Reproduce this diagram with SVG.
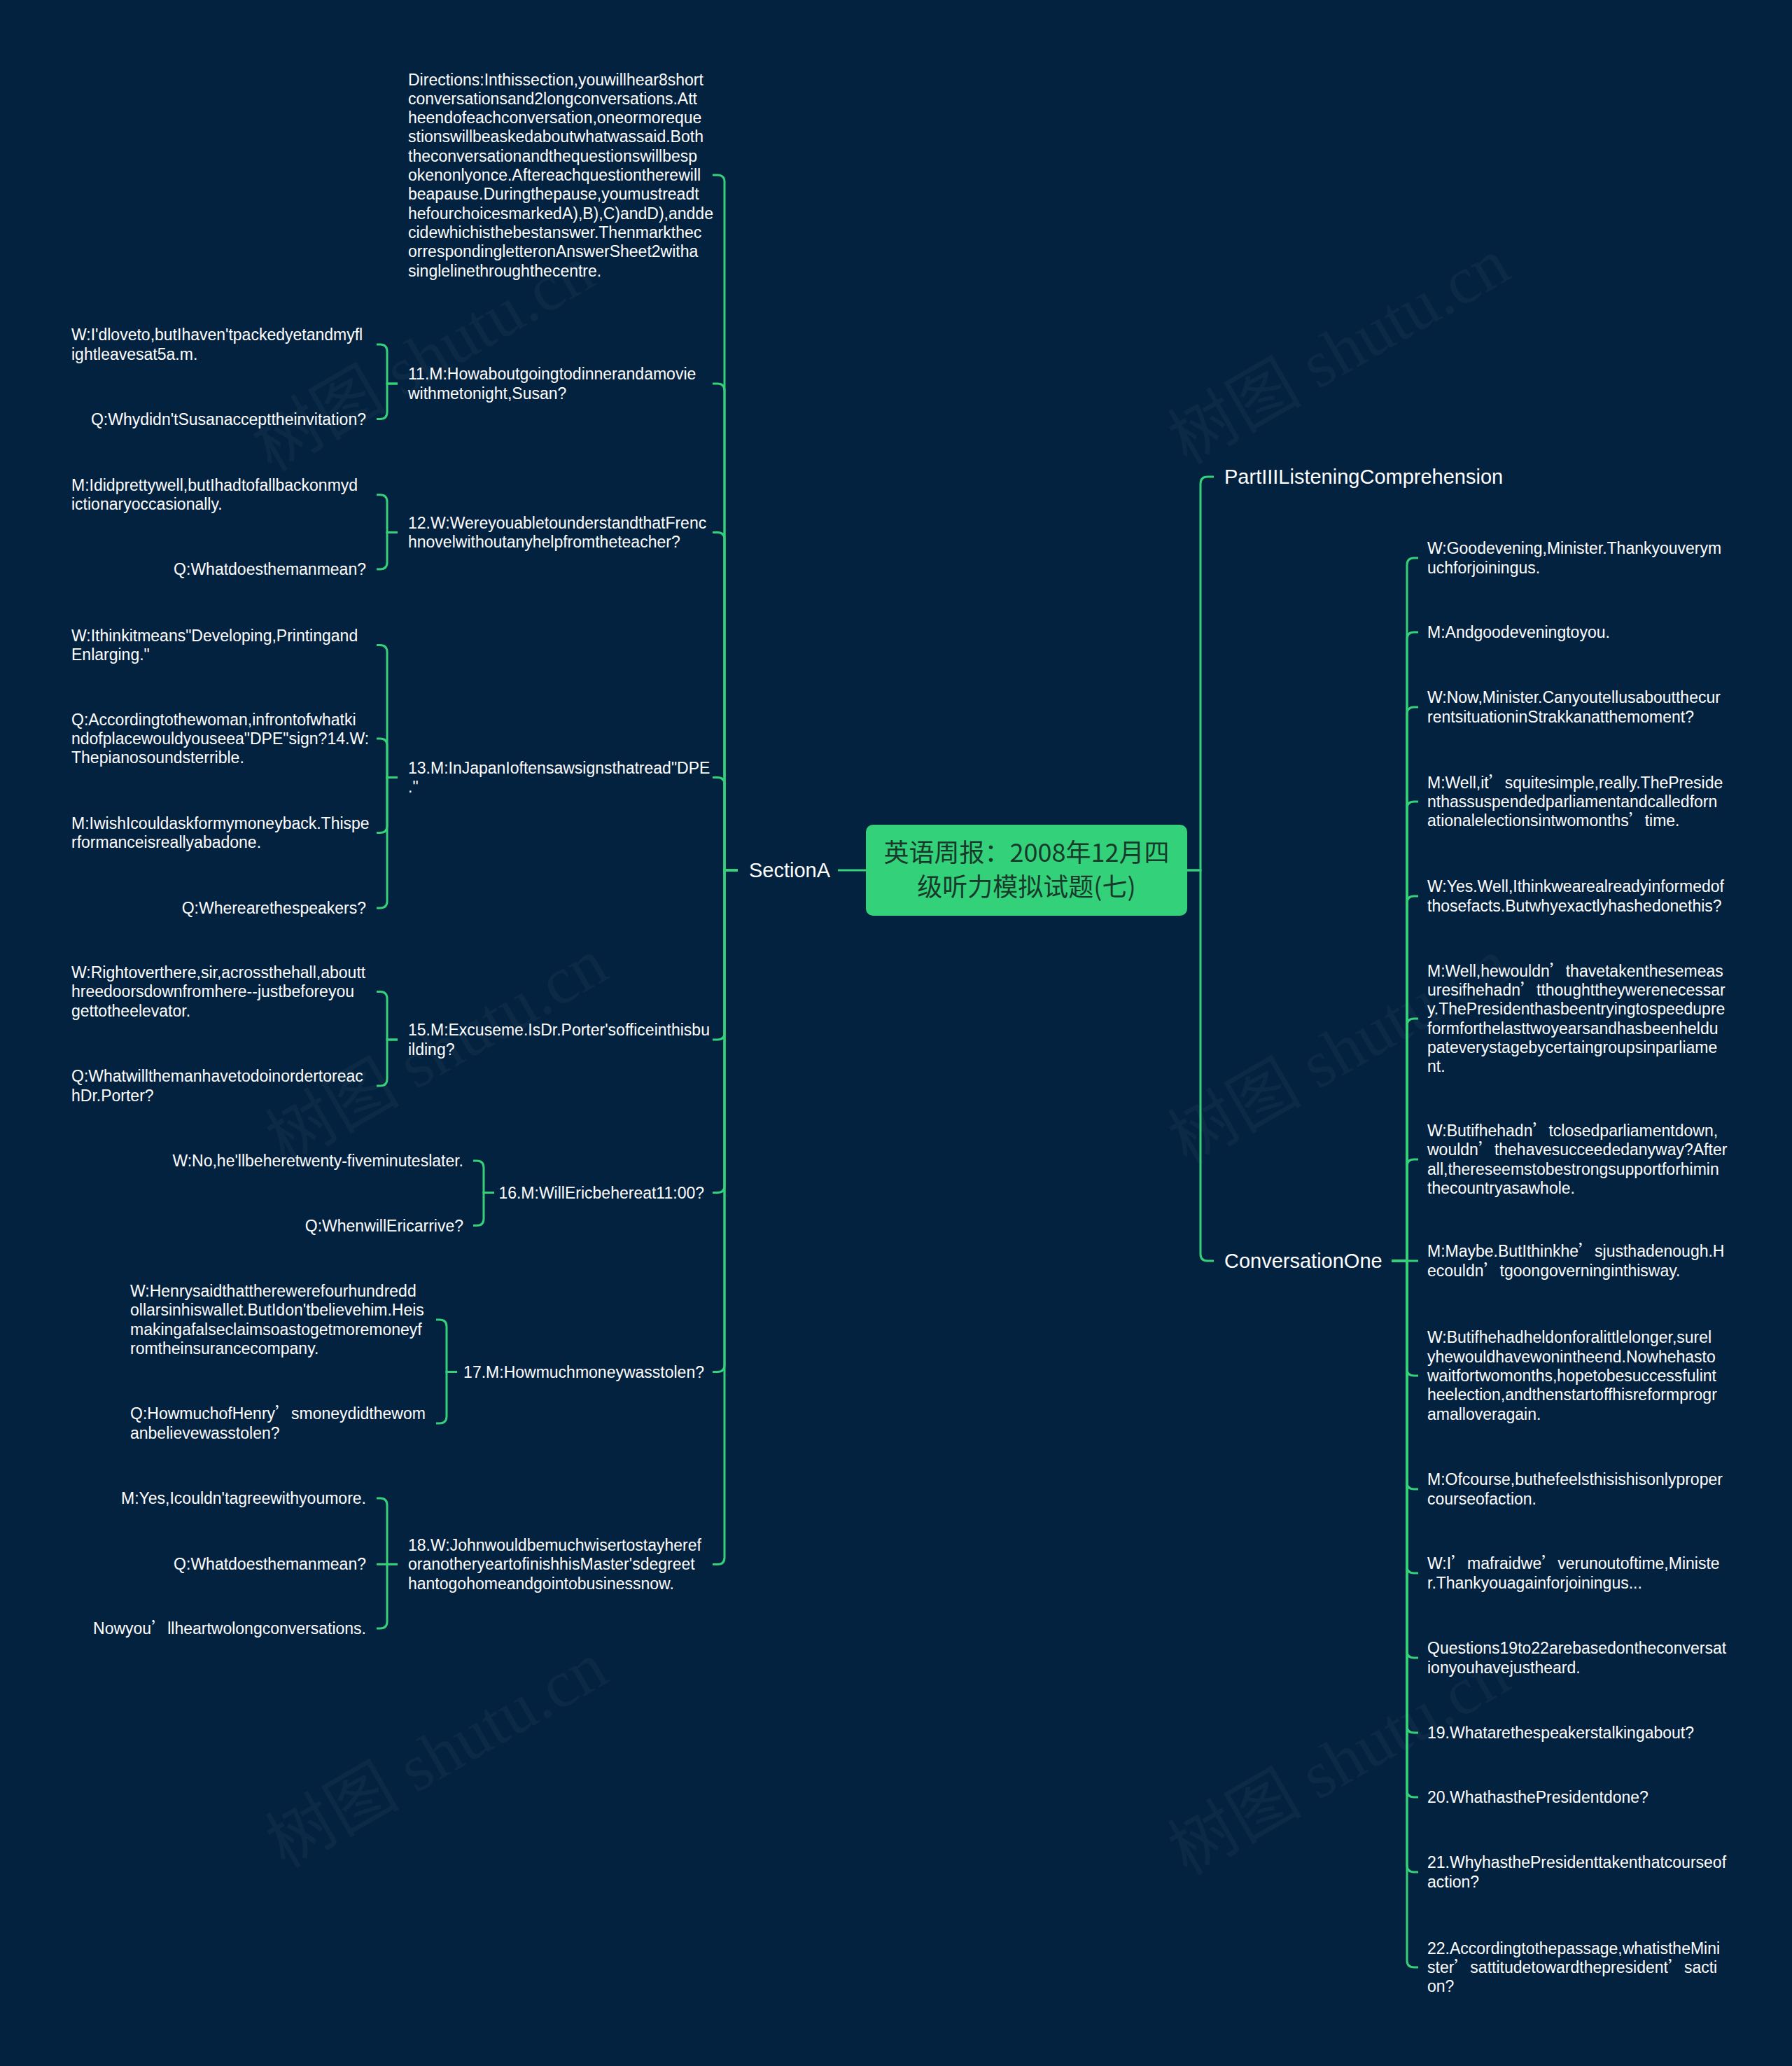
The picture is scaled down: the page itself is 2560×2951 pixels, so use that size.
<svg xmlns="http://www.w3.org/2000/svg" width="2560" height="2951" viewBox="0 0 2560 2951">
<style>
.bg{fill:#03223f}
.ln{fill:none;stroke:#35d07a;stroke-width:3}
.t{font-family:"Liberation Sans","Noto Sans CJK SC",sans-serif;font-size:23px;fill:#ffffff}
.e{text-anchor:end}
.h{font-size:29px}
.fw{font-family:"Noto Sans CJK SC",sans-serif}
.rootbox{fill:#33d17a}
.root{font-family:"Noto Sans CJK SC",sans-serif;font-size:36px;fill:#183a2b;text-anchor:middle}
.wm{font-family:"Liberation Serif","Noto Sans CJK SC",serif;font-size:96px;fill:#ffffff;fill-opacity:0.04}
</style>
<rect class="bg" x="0" y="0" width="2560" height="2951"/>
<g id="watermark">
<text class="wm" transform="translate(621,540) rotate(-30)" text-anchor="middle">树图 shutu.cn</text>
<text class="wm" transform="translate(1929,530) rotate(-30)" text-anchor="middle">树图 shutu.cn</text>
<text class="wm" transform="translate(640,1530) rotate(-30)" text-anchor="middle">树图 shutu.cn</text>
<text class="wm" transform="translate(1929,1530) rotate(-30)" text-anchor="middle">树图 shutu.cn</text>
<text class="wm" transform="translate(640,2535) rotate(-30)" text-anchor="middle">树图 shutu.cn</text>
<text class="wm" transform="translate(1929,2545) rotate(-30)" text-anchor="middle">树图 shutu.cn</text>
</g>
<g id="connectors">
<path class="ln" d="M1237,1243H1197"/>
<path class="ln" d="M1054,1243H1035V260Q1035,250 1025,250H1018"/>
<path class="ln" d="M1054,1243H1035V558Q1035,548 1025,548H1018"/>
<path class="ln" d="M1054,1243H1035V770.5Q1035,760.5 1025,760.5H1018"/>
<path class="ln" d="M1054,1243H1035V1120.6Q1035,1110.6 1025,1110.6H1018"/>
<path class="ln" d="M1054,1243H1035V1475Q1035,1485 1025,1485H1018"/>
<path class="ln" d="M1054,1243H1035V1693.6Q1035,1703.6 1025,1703.6H1018"/>
<path class="ln" d="M1054,1243H1035V1949.5Q1035,1959.5 1025,1959.5H1018"/>
<path class="ln" d="M1054,1243H1035V2224.4Q1035,2234.4 1025,2234.4H1018"/>
<path class="ln" d="M568,548H553V502Q553,492 543,492H538"/>
<path class="ln" d="M568,548H553V588.5Q553,598.5 543,598.5H538"/>
<path class="ln" d="M568,760.5H553V716.7Q553,706.7 543,706.7H538"/>
<path class="ln" d="M568,760.5H553V803Q553,813 543,813H538"/>
<path class="ln" d="M568,1110.6H553V931.4Q553,921.4 543,921.4H538"/>
<path class="ln" d="M568,1110.6H553V1065Q553,1055 543,1055H538"/>
<path class="ln" d="M568,1110.6H553V1179.6Q553,1189.6 543,1189.6H538"/>
<path class="ln" d="M568,1110.6H553V1287Q553,1297 543,1297H538"/>
<path class="ln" d="M568,1485H553V1426.4Q553,1416.4 543,1416.4H538"/>
<path class="ln" d="M568,1485H553V1541Q553,1551 543,1551H538"/>
<path class="ln" d="M706,1703.6H691V1668Q691,1658 681,1658H676"/>
<path class="ln" d="M706,1703.6H691V1740.5Q691,1750.5 681,1750.5H676"/>
<path class="ln" d="M653,1959.5H638V1895Q638,1885 628,1885H623"/>
<path class="ln" d="M653,1959.5H638V2023Q638,2033 628,2033H623"/>
<path class="ln" d="M568,2234.4H553V2150Q553,2140 543,2140H538"/>
<path class="ln" d="M568,2234.4H538"/>
<path class="ln" d="M568,2234.4H553V2316Q553,2326 543,2326H538"/>
<path class="ln" d="M1696,1243H1715V691Q1715,681 1725,681H1734"/>
<path class="ln" d="M1696,1243H1715V1791Q1715,1801 1725,1801H1734"/>
<path class="ln" d="M1988,1801H2010V807Q2010,797 2020,797H2026"/>
<path class="ln" d="M1988,1801H2010V913Q2010,903 2020,903H2026"/>
<path class="ln" d="M1988,1801H2010V1020Q2010,1010 2020,1010H2026"/>
<path class="ln" d="M1988,1801H2010V1155Q2010,1145 2020,1145H2026"/>
<path class="ln" d="M1988,1801H2010V1290Q2010,1280 2020,1280H2026"/>
<path class="ln" d="M1988,1801H2010V1465Q2010,1455 2020,1455H2026"/>
<path class="ln" d="M1988,1801H2010V1666Q2010,1656 2020,1656H2026"/>
<path class="ln" d="M1988,1801H2026"/>
<path class="ln" d="M1988,1801H2010V1955Q2010,1965 2020,1965H2026"/>
<path class="ln" d="M1988,1801H2010V2117Q2010,2127 2020,2127H2026"/>
<path class="ln" d="M1988,1801H2010V2237Q2010,2247 2020,2247H2026"/>
<path class="ln" d="M1988,1801H2010V2358Q2010,2368 2020,2368H2026"/>
<path class="ln" d="M1988,1801H2010V2465Q2010,2475 2020,2475H2026"/>
<path class="ln" d="M1988,1801H2010V2557Q2010,2567 2020,2567H2026"/>
<path class="ln" d="M1988,1801H2010V2664Q2010,2674 2020,2674H2026"/>
<path class="ln" d="M1988,1801H2010V2800Q2010,2810 2020,2810H2026"/>
</g>
<g id="root">
<rect class="rootbox" x="1237" y="1178" width="459" height="130" rx="10"/>
<text class="root"><tspan x="1466.5" y="1231">英语周报：2008年12月四</tspan><tspan x="1466.5" y="1280">级听力模拟试题(七)</tspan></text>
</g>
<g id="sectionA"><text class="t h e" x="1186" y="1253">SectionA</text></g>
<g id="part3"><text class="t h" x="1749" y="691">PartIIIListeningComprehension</text></g>
<g id="conv1"><text class="t h" x="1749" y="1811">ConversationOne</text></g>
<g id="directions"><text class="t">
<tspan x="583" y="121.5">Directions:Inthissection,youwillhear8short</tspan>
<tspan x="583" y="148.8">conversationsand2longconversations.Att</tspan>
<tspan x="583" y="176.1">heendofeachconversation,oneormoreque</tspan>
<tspan x="583" y="203.4">stionswillbeaskedaboutwhatwassaid.Both</tspan>
<tspan x="583" y="230.7">theconversationandthequestionswillbesp</tspan>
<tspan x="583" y="258">okenonlyonce.Aftereachquestiontherewill</tspan>
<tspan x="583" y="285.3">beapause.Duringthepause,youmustreadt</tspan>
<tspan x="583" y="312.6">hefourchoicesmarkedA),B),C)andD),andde</tspan>
<tspan x="583" y="339.9">cidewhichisthebestanswer.Thenmarkthec</tspan>
<tspan x="583" y="367.2">orrespondingletteronAnswerSheet2witha</tspan>
<tspan x="583" y="394.5">singlelinethroughthecentre.</tspan>
</text></g>
<g id="q11"><text class="t"><tspan x="583" y="542.4">11.M:Howaboutgoingtodinnerandamovie</tspan><tspan x="583" y="569.7">withmetonight,Susan?</tspan></text></g>
<g id="q11a"><text class="t"><tspan x="102" y="486.4">W:I'dloveto,butIhaven'tpackedyetandmyfl</tspan><tspan x="102" y="513.7">ightleavesat5a.m.</tspan></text></g>
<g id="q11b"><text class="t e" x="523" y="606.5">Q:Whydidn'tSusanaccepttheinvitation?</text></g>
<g id="q12"><text class="t"><tspan x="583" y="754.9">12.W:WereyouabletounderstandthatFrenc</tspan><tspan x="583" y="782.2">hnovelwithoutanyhelpfromtheteacher?</tspan></text></g>
<g id="q12a"><text class="t"><tspan x="102" y="701">M:Ididprettywell,butIhadtofallbackonmyd</tspan><tspan x="102" y="728.4">ictionaryoccasionally.</tspan></text></g>
<g id="q12b"><text class="t e" x="523" y="821">Q:Whatdoesthemanmean?</text></g>
<g id="q13"><text class="t"><tspan x="583" y="1105">13.M:InJapanIoftensawsignsthatread&quot;DPE</tspan><tspan x="583" y="1132.3">.&quot;</tspan></text></g>
<g id="q13a"><text class="t"><tspan x="102" y="915.8">W:Ithinkitmeans&quot;Developing,Printingand</tspan><tspan x="102" y="943.1">Enlarging.&quot;</tspan></text></g>
<g id="q13b"><text class="t"><tspan x="102" y="1035.7">Q:Accordingtothewoman,infrontofwhatki</tspan><tspan x="102" y="1063">ndofplacewouldyouseea&quot;DPE&quot;sign?14.W:</tspan><tspan x="102" y="1090.3">Thepianosoundsterrible.</tspan></text></g>
<g id="q13c"><text class="t"><tspan x="102" y="1184">M:IwishIcouldaskformymoneyback.Thispe</tspan><tspan x="102" y="1211.3">rformanceisreallyabadone.</tspan></text></g>
<g id="q13d"><text class="t e" x="523" y="1305">Q:Wherearethespeakers?</text></g>
<g id="q15"><text class="t"><tspan x="583" y="1479.4">15.M:Excuseme.IsDr.Porter'sofficeinthisbu</tspan><tspan x="583" y="1506.7">ilding?</tspan></text></g>
<g id="q15a"><text class="t"><tspan x="102" y="1397.1">W:Rightoverthere,sir,acrossthehall,aboutt</tspan><tspan x="102" y="1424.4">hreedoorsdownfromhere--justbeforeyou</tspan><tspan x="102" y="1451.7">gettotheelevator.</tspan></text></g>
<g id="q15b"><text class="t"><tspan x="102" y="1545.4">Q:Whatwillthemanhavetodoinordertoreac</tspan><tspan x="102" y="1572.7">hDr.Porter?</tspan></text></g>
<g id="q16"><text class="t e" x="1006" y="1711.6">16.M:WillEricbehereat11:00?</text></g>
<g id="q16a"><text class="t e" x="662" y="1666">W:No,he'llbeheretwenty-fiveminuteslater.</text></g>
<g id="q16b"><text class="t e" x="662" y="1758.5">Q:WhenwillEricarrive?</text></g>
<g id="q17"><text class="t e" x="1006" y="1967.5">17.M:Howmuchmoneywasstolen?</text></g>
<g id="q17a"><text class="t"><tspan x="186" y="1852">W:Henrysaidthattherewerefourhundredd</tspan><tspan x="186" y="1879.4">ollarsinhiswallet.ButIdon'tbelievehim.Heis</tspan><tspan x="186" y="1906.7">makingafalseclaimsoastogetmoremoneyf</tspan><tspan x="186" y="1934">romtheinsurancecompany.</tspan></text></g>
<g id="q17b"><text class="t"><tspan x="186" y="2027.4">Q:HowmuchofHenry<tspan class="fw">’</tspan>smoneydidthewom</tspan><tspan x="186" y="2054.7">anbelievewasstolen?</tspan></text></g>
<g id="q18"><text class="t"><tspan x="583" y="2215.1">18.W:Johnwouldbemuchwisertostayheref</tspan><tspan x="583" y="2242.4">oranotheryeartofinishhisMaster'sdegreet</tspan><tspan x="583" y="2269.7">hantogohomeandgointobusinessnow.</tspan></text></g>
<g id="q18a"><text class="t e" x="523" y="2148">M:Yes,Icouldn'tagreewithyoumore.</text></g>
<g id="q18b"><text class="t e" x="523" y="2242.4">Q:Whatdoesthemanmean?</text></g>
<g id="q18c"><text class="t e" x="523" y="2334">Nowyou<tspan class="fw">’</tspan>llheartwolongconversations.</text></g>
<g id="r1"><text class="t"><tspan x="2039" y="791.4">W:Goodevening,Minister.Thankyouverym</tspan><tspan x="2039" y="818.7">uchforjoiningus.</tspan></text></g>
<g id="r2"><text class="t" x="2039" y="911">M:Andgoodeveningtoyou.</text></g>
<g id="r3"><text class="t"><tspan x="2039" y="1004.4">W:Now,Minister.Canyoutellusaboutthecur</tspan><tspan x="2039" y="1031.7">rentsituationinStrakkanatthemoment?</tspan></text></g>
<g id="r4"><text class="t"><tspan x="2039" y="1125.7">M:Well,it<tspan class="fw">’</tspan>squitesimple,really.ThePreside</tspan><tspan x="2039" y="1153">nthassuspendedparliamentandcalledforn</tspan><tspan x="2039" y="1180.3">ationalelectionsintwomonths<tspan class="fw">’</tspan>time.</tspan></text></g>
<g id="r5"><text class="t"><tspan x="2039" y="1274.4">W:Yes.Well,Ithinkwearealreadyinformedof</tspan><tspan x="2039" y="1301.7">thosefacts.Butwhyexactlyhashedonethis?</tspan></text></g>
<g id="r6"><text class="t"><tspan x="2039" y="1394.8">M:Well,hewouldn<tspan class="fw">’</tspan>thavetakenthesemeas</tspan><tspan x="2039" y="1422.1">uresifhehadn<tspan class="fw">’</tspan>tthoughttheywerenecessar</tspan><tspan x="2039" y="1449.4">y.ThePresidenthasbeentryingtospeedupre</tspan><tspan x="2039" y="1476.7">formforthelasttwoyearsandhasbeenheldu</tspan><tspan x="2039" y="1504">pateverystagebycertaingroupsinparliame</tspan><tspan x="2039" y="1531.3">nt.</tspan></text></g>
<g id="r7"><text class="t"><tspan x="2039" y="1623">W:Butifhehadn<tspan class="fw">’</tspan>tclosedparliamentdown,</tspan><tspan x="2039" y="1650.4">wouldn<tspan class="fw">’</tspan>thehavesucceededanyway?After</tspan><tspan x="2039" y="1677.7">all,thereseemstobestrongsupportforhimin</tspan><tspan x="2039" y="1705">thecountryasawhole.</tspan></text></g>
<g id="r8"><text class="t"><tspan x="2039" y="1795.4">M:Maybe.ButIthinkhe<tspan class="fw">’</tspan>sjusthadenough.H</tspan><tspan x="2039" y="1822.7">ecouldn<tspan class="fw">’</tspan>tgoongoverninginthisway.</tspan></text></g>
<g id="r9"><text class="t"><tspan x="2039" y="1918.4">W:Butifhehadheldonforalittlelonger,surel</tspan><tspan x="2039" y="1945.7">yhewouldhavewonintheend.Nowhehasto</tspan><tspan x="2039" y="1973">waitfortwomonths,hopetobesuccessfulint</tspan><tspan x="2039" y="2000.3">heelection,andthenstartoffhisreformprogr</tspan><tspan x="2039" y="2027.6">amalloveragain.</tspan></text></g>
<g id="r10"><text class="t"><tspan x="2039" y="2121.4">M:Ofcourse,buthefeelsthisishisonlyproper</tspan><tspan x="2039" y="2148.7">courseofaction.</tspan></text></g>
<g id="r11"><text class="t"><tspan x="2039" y="2241.4">W:I<tspan class="fw">’</tspan>mafraidwe<tspan class="fw">’</tspan>verunoutoftime,Ministe</tspan><tspan x="2039" y="2268.7">r.Thankyouagainforjoiningus...</tspan></text></g>
<g id="r12"><text class="t"><tspan x="2039" y="2362.4">Questions19to22arebasedontheconversat</tspan><tspan x="2039" y="2389.7">ionyouhavejustheard.</tspan></text></g>
<g id="r13"><text class="t" x="2039" y="2483">19.Whatarethespeakerstalkingabout?</text></g>
<g id="r14"><text class="t" x="2039" y="2575">20.WhathasthePresidentdone?</text></g>
<g id="r15"><text class="t"><tspan x="2039" y="2668.4">21.WhyhasthePresidenttakenthatcourseof</tspan><tspan x="2039" y="2695.7">action?</tspan></text></g>
<g id="r16"><text class="t"><tspan x="2039" y="2790.7">22.Accordingtothepassage,whatistheMini</tspan><tspan x="2039" y="2818">ster<tspan class="fw">’</tspan>sattitudetowardthepresident<tspan class="fw">’</tspan>sacti</tspan><tspan x="2039" y="2845.3">on?</tspan></text></g>
</svg>
